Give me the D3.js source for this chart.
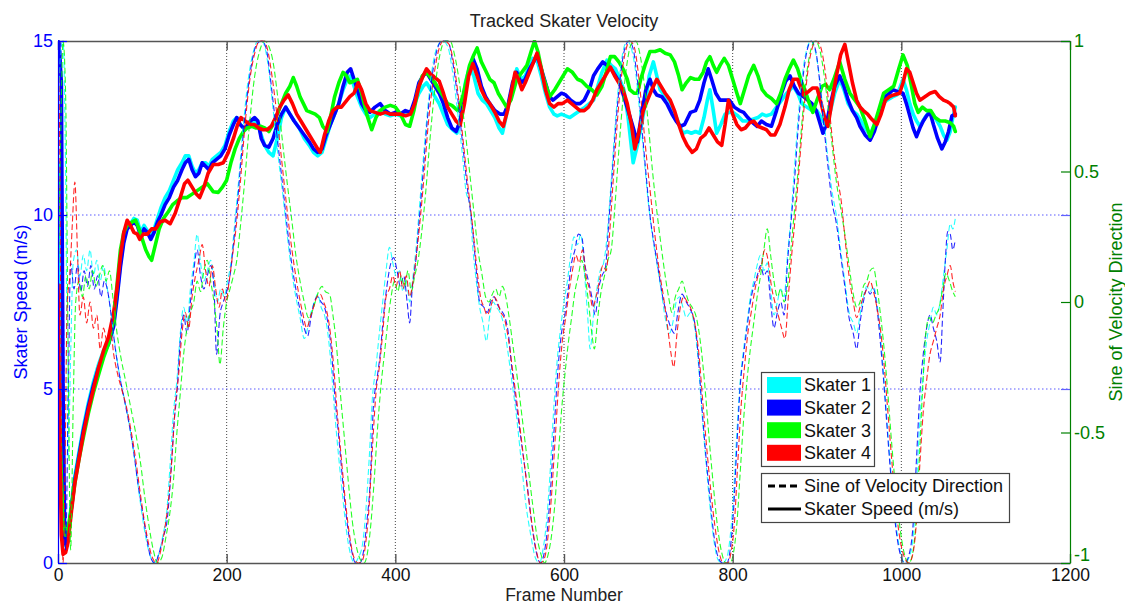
<!DOCTYPE html>
<html><head><meta charset="utf-8">
<script src="https://cdn.jsdelivr.net/npm/d3@7"></script>
<style>
body{margin:0;background:#fff;}
svg{display:block;font-family:"Liberation Sans",Arial,sans-serif;}
</style></head>
<body><svg id="chart" width="1125" height="605"></svg>
<script>
const chartTitle = "Tracked Skater Velocity";
const xLabel = "Frame Number";
const leftLabel = "Skater Speed (m/s)";
const rightLabel = "Sine of Velocity Direction";
const skaterNames = ["Skater 1","Skater 2","Skater 3","Skater 4"];
const skaterColors = ["#00ffff","#0000ff","#00ff00","#ff0000"];
const styleNames = ["Sine of Velocity Direction","Skater Speed (m/s)"];
const xTicks = [0,200,400,600,800,1000,1200];
const leftTicks = [0,5,10,15];
const rightTicks = [-1,-0.5,0,0.5,1];
const rightTickLabels = ["-1","-0.5","0","0.5","1"];

// Speed [frame, m/s]
const speed1 = [[0,11.5],[2,6.0],[4,2.0],[6,0.6],[9,0.5],[12,0.9],[16,1.7],[20,2.5],[25,3.2],[30,3.9],[36,4.6],[42,5.2],[48,5.7],[54,6.1],[60,6.4],[66,6.9],[70,7.7],[74,8.6],[78,9.3],[82,9.7],[86,9.75],[90,9.9],[94,9.85],[98,9.5],[102,9.7],[106,9.55],[110,9.4],[114,9.6],[118,9.9],[122,10.2],[127,10.5],[132,10.7],[137,11.0],[142,11.3],[147,11.5],[151,11.7],[155,11.7],[159,11.4],[163,11.2],[167,11.3],[171,11.5],[175,11.5],[179,11.4],[183,11.6],[188,11.7],[193,11.8],[198,12.0],[203,12.4],[208,12.7],[212,12.8],[216,12.6],[220,12.5],[224,12.5],[228,12.6],[233,12.7],[237,12.6],[241,12.3],[245,12.0],[250,11.8],[255,11.7],[260,12.2],[265,12.8],[270,13.1],[275,12.9],[280,12.7],[286,12.5],[292,12.2],[298,12.0],[303,11.8],[308,11.7],[313,11.8],[318,12.2],[323,12.6],[328,12.9],[333,13.2],[338,13.6],[343,13.9],[347,14.0],[351,13.7],[355,13.4],[360,13.1],[365,12.9],[370,12.8],[376,12.9],[382,13.0],[388,12.9],[394,12.85],[400,12.9],[406,12.85],[412,12.9],[418,12.9],[423,13.2],[428,13.5],[433,13.7],[437,13.8],[442,13.6],[447,13.4],[452,13.2],[457,12.9],[462,12.6],[468,12.45],[473,12.35],[478,12.9],[483,13.8],[488,14.25],[493,14.0],[498,13.5],[503,13.3],[508,13.2],[513,13.0],[518,12.8],[523,12.5],[527,12.35],[532,12.9],[538,13.6],[544,14.2],[549,13.9],[554,14.0],[559,14.3],[563,14.5],[568,14.45],[573,14.0],[578,13.5],[583,13.1],[588,12.9],[592,12.85],[597,12.9],[602,12.85],[607,12.8],[613,12.9],[619,13.0],[625,13.1],[630,13.2],[635,13.3],[640,13.7],[645,14.1],[651,14.45],[656,14.3],[661,14.2],[666,13.9],[671,13.6],[676,12.8],[682,11.5],[687,12.0],[692,12.6],[697,13.3],[701,14.0],[706,14.4],[710,14.0],[714,13.6],[720,13.4],[725,13.3],[730,13.0],[735,12.7],[741,12.35],[746,12.4],[751,12.35],[756,12.4],[761,12.35],[766,12.8],[770,13.3],[773,13.6],[777,13.0],[781,12.35],[786,12.6],[791,12.9],[796,12.95],[800,12.95],[806,12.85],[812,12.7],[818,12.7],[824,12.75],[830,12.8],[835,12.9],[840,12.85],[846,12.9],[852,13.1],[858,13.3],[864,13.5],[872,13.7],[877,13.5],[882,13.2],[888,13.1],[894,13.0],[900,13.0],[905,12.8],[911,12.55],[916,13.0],[921,13.5],[927,13.9],[932,13.6],[937,13.2],[942,13.0],[947,12.9],[951,12.75],[957,12.5],[963,12.3],[968,12.6],[973,12.9],[978,13.2],[983,13.3],[990,13.4],[995,13.45],[1002,13.9],[1006,13.6],[1010,13.2],[1014,12.9],[1018,12.7],[1022,12.55],[1028,12.8],[1034,13.0],[1040,12.8],[1046,12.55],[1050,12.3],[1054,12.15],[1058,12.4],[1061,12.8],[1064,13.1]];
const speed2 = [[0,15.0],[2,14.6],[4,13.8],[6,5.0],[8,0.6],[10,0.5],[12,0.8],[16,1.6],[20,2.4],[25,3.1],[30,3.8],[36,4.5],[42,5.1],[48,5.6],[54,6.0],[60,6.3],[66,6.8],[70,7.6],[74,8.5],[78,9.2],[82,9.6],[86,9.7],[90,9.8],[94,9.7],[98,9.4],[102,9.6],[106,9.5],[110,9.3],[114,9.5],[118,9.8],[122,10.0],[127,10.3],[132,10.5],[137,10.8],[142,11.0],[147,11.3],[151,11.5],[155,11.6],[159,11.3],[163,11.1],[167,11.2],[171,11.5],[175,11.4],[179,11.3],[183,11.5],[188,11.6],[193,11.7],[198,11.9],[203,12.3],[208,12.6],[212,12.8],[216,12.6],[220,12.5],[224,12.55],[228,12.7],[233,12.8],[237,12.7],[241,12.2],[245,12.0],[250,11.95],[255,12.2],[260,12.6],[265,12.9],[270,13.1],[275,12.9],[280,12.7],[286,12.5],[292,12.3],[298,12.1],[303,11.9],[308,11.8],[313,11.9],[318,12.3],[323,12.6],[328,12.9],[333,13.2],[338,13.7],[343,14.1],[347,14.2],[351,13.9],[355,13.6],[360,13.2],[365,13.0],[370,12.95],[376,13.1],[382,13.2],[388,13.0],[394,12.9],[400,12.95],[406,12.9],[412,13.0],[418,12.95],[423,13.3],[428,13.8],[433,14.0],[437,14.1],[442,13.9],[447,13.7],[452,13.5],[457,13.2],[462,12.8],[467,12.5],[472,12.4],[477,12.7],[482,13.4],[487,14.1],[492,14.5],[497,14.2],[502,13.7],[507,13.4],[512,13.2],[518,13.0],[524,12.9],[529,12.9],[534,13.2],[539,13.8],[544,14.1],[549,13.8],[554,13.9],[559,14.2],[564,14.4],[568,14.6],[573,14.2],[578,13.8],[583,13.4],[587,13.3],[592,13.4],[597,13.5],[602,13.45],[608,13.3],[614,13.2],[619,13.2],[624,13.3],[630,13.6],[635,14.0],[640,14.2],[646,14.4],[651,14.3],[656,14.2],[661,14.0],[666,13.8],[671,13.4],[676,13.0],[681,12.6],[687,12.1],[692,12.9],[697,13.6],[702,13.9],[706,13.6],[710,13.45],[716,13.4],[722,13.2],[728,12.9],[733,12.7],[738,12.55],[743,12.6],[750,12.95],[756,13.0],[761,13.3],[766,13.8],[771,14.2],[775,13.9],[780,13.5],[785,13.3],[790,13.3],[796,13.3],[802,13.1],[808,13.0],[813,12.95],[818,12.8],[824,12.65],[829,12.55],[834,12.7],[840,12.6],[846,12.55],[852,13.0],[858,13.5],[863,13.85],[868,14.0],[873,13.7],[878,13.5],[884,13.4],[889,13.3],[894,13.2],[899,13.0],[904,12.6],[907,12.35],[911,12.6],[916,13.2],[921,13.7],[927,14.0],[932,13.7],[937,13.3],[942,13.0],[947,12.8],[951,12.55],[957,12.3],[963,12.15],[968,12.4],[973,12.8],[977,13.1],[981,13.4],[986,13.5],[990,13.6],[995,13.55],[1002,13.5],[1006,13.2],[1010,12.85],[1014,12.5],[1018,12.25],[1022,12.5],[1026,12.7],[1030,12.85],[1034,12.95],[1038,12.6],[1043,12.2],[1048,11.9],[1052,12.1],[1056,12.4],[1060,12.85],[1064,12.9]];
const speed3 = [[0,6.5],[2,4.0],[4,2.4],[6,1.2],[9,0.8],[12,1.0],[16,1.6],[20,2.3],[25,3.0],[30,3.6],[36,4.3],[42,4.9],[48,5.4],[54,5.9],[60,6.3],[66,7.0],[70,8.0],[74,9.0],[78,9.5],[82,9.7],[88,9.8],[92,9.85],[96,9.6],[100,9.3],[104,9.0],[108,8.8],[111,8.7],[115,9.1],[120,9.6],[125,9.9],[131,10.1],[136,10.3],[141,10.4],[147,10.5],[153,10.5],[159,10.6],[165,10.7],[171,10.8],[177,10.9],[184,10.67],[190,10.65],[195,10.8],[200,11.0],[205,11.5],[210,11.9],[215,12.2],[220,12.4],[224,12.5],[230,12.55],[235,12.5],[240,12.55],[245,12.5],[250,12.4],[255,12.6],[260,12.9],[265,13.2],[270,13.5],[275,13.7],[279,13.95],[283,13.7],[287,13.4],[291,13.2],[295,13.0],[300,12.95],[305,12.9],[310,12.8],[314,12.55],[319,12.4],[323,12.8],[328,13.4],[333,13.8],[338,14.1],[342,14.0],[346,13.8],[351,13.85],[355,13.9],[360,13.5],[366,12.9],[372,12.45],[377,12.8],[382,13.0],[388,13.1],[394,13.15],[400,13.1],[406,12.9],[412,12.6],[417,12.55],[422,13.0],[427,13.6],[432,14.0],[437,14.1],[442,13.95],[447,13.8],[452,13.6],[457,13.4],[462,13.2],[467,13.15],[474,13.0],[480,13.4],[488,14.3],[493,14.6],[497,14.8],[502,14.4],[507,14.15],[512,13.9],[517,13.8],[522,13.5],[527,13.3],[532,13.1],[537,13.3],[544,13.9],[550,14.1],[556,14.3],[561,14.7],[565,15.0],[569,14.7],[575,14.0],[579,13.7],[583,13.4],[589,13.6],[594,13.8],[599,14.0],[604,14.2],[610,14.1],[616,13.9],[621,13.85],[627,13.7],[633,13.6],[639,13.45],[645,13.7],[650,14.1],[655,14.55],[660,14.55],[665,14.4],[670,14.2],[675,13.9],[678,13.6],[683,13.5],[687,13.5],[691,13.9],[696,14.3],[702,14.7],[708,14.7],[714,14.75],[720,14.65],[726,14.6],[731,14.4],[736,14.0],[740,13.6],[745,13.8],[750,13.95],[755,13.9],[760,13.9],[765,14.1],[769,14.4],[773,14.55],[777,14.3],[781,14.1],[785,14.3],[790,14.5],[795,14.3],[800,13.9],[805,13.5],[809,13.2],[814,13.6],[819,14.0],[825,14.3],[830,14.0],[835,13.6],[840,13.45],[846,13.35],[852,13.2],[857,13.5],[862,13.9],[867,14.2],[872,14.45],[877,14.2],[882,13.8],[887,13.5],[891,13.2],[895,12.95],[900,13.3],[906,13.7],[910,13.75],[915,13.6],[920,13.9],[927,14.4],[933,13.9],[939,13.5],[945,13.3],[951,13.1],[957,12.7],[963,12.25],[968,12.6],[973,13.0],[979,13.5],[985,13.6],[991,13.7],[997,14.2],[1002,14.6],[1007,14.3],[1012,13.7],[1016,13.2],[1020,12.95],[1025,13.1],[1030,13.0],[1035,13.0],[1040,12.8],[1046,12.7],[1052,12.7],[1058,12.65],[1062,12.55],[1064,12.4]];
const speed4 = [[0,8.0],[2,3.5],[4,0.8],[6,0.25],[9,0.3],[12,0.6],[16,1.5],[20,2.3],[25,3.0],[30,3.7],[36,4.4],[42,5.0],[48,5.6],[54,6.1],[60,6.5],[66,7.2],[70,7.9],[74,8.8],[78,9.5],[82,9.85],[86,9.7],[90,9.5],[94,9.45],[97,9.3],[101,9.45],[106,9.45],[111,9.6],[116,9.6],[121,9.8],[127,9.85],[133,9.75],[139,10.05],[145,10.5],[150,10.9],[154,11.0],[159,10.8],[164,10.6],[168,10.5],[173,10.8],[178,11.2],[184,11.45],[190,11.45],[196,11.5],[202,11.8],[208,12.2],[213,12.6],[217,12.8],[222,12.7],[228,12.6],[233,12.6],[238,12.5],[243,12.45],[248,12.45],[253,12.55],[258,12.8],[263,13.1],[268,13.3],[273,13.45],[278,13.2],[283,12.9],[288,12.7],[293,12.5],[298,12.3],[303,12.1],[308,11.9],[311,11.8],[316,12.3],[321,12.7],[326,13.0],[331,13.1],[336,13.1],[341,13.25],[346,13.4],[351,13.5],[356,13.8],[360,13.6],[365,13.2],[370,13.0],[376,12.95],[382,12.9],[388,12.95],[394,12.9],[400,12.9],[406,12.9],[412,12.85],[418,12.9],[423,13.2],[428,13.7],[433,14.0],[437,14.2],[442,14.05],[447,13.95],[452,13.85],[457,13.5],[462,13.1],[467,12.9],[472,12.7],[477,12.6],[482,13.2],[487,14.0],[492,14.35],[497,14.0],[502,13.6],[507,13.35],[512,13.2],[518,12.95],[523,12.7],[528,12.55],[533,13.0],[538,13.6],[542,14.1],[546,13.9],[550,13.6],[554,13.8],[559,14.1],[564,14.4],[568,14.65],[573,14.2],[578,13.6],[583,13.2],[588,13.1],[593,13.2],[598,13.2],[604,13.3],[609,13.2],[614,13.1],[619,13.0],[624,13.0],[629,13.1],[634,13.3],[639,13.6],[644,13.8],[649,14.0],[655,14.25],[660,14.0],[665,13.8],[670,13.6],[675,13.2],[680,12.6],[684,11.9],[689,12.4],[694,13.0],[699,13.3],[704,13.6],[710,13.9],[715,13.7],[720,13.5],[726,13.3],[731,13.0],[736,12.6],[741,12.25],[746,12.0],[752,11.8],[757,11.9],[762,12.2],[767,12.3],[772,12.5],[777,12.3],[782,12.1],[787,12.0],[791,12.6],[795,13.3],[800,12.9],[805,12.6],[810,12.45],[815,12.5],[820,12.65],[825,12.7],[830,12.55],[835,12.5],[840,12.45],[845,12.3],[850,12.3],[856,12.6],[862,13.1],[867,13.6],[872,13.9],[877,13.9],[884,13.45],[890,13.55],[895,13.65],[900,13.65],[905,13.2],[910,12.7],[913,12.55],[918,13.3],[923,14.0],[928,14.6],[933,14.9],[938,14.3],[942,13.8],[947,13.3],[951,13.1],[955,13.0],[960,12.9],[965,12.75],[971,12.6],[976,12.9],[981,13.3],[986,13.4],[991,13.45],[998,13.5],[1002,13.8],[1006,14.2],[1010,14.1],[1014,13.8],[1018,13.5],[1022,13.3],[1028,13.4],[1034,13.5],[1040,13.55],[1045,13.4],[1050,13.3],[1055,13.25],[1058,13.2],[1062,13.1],[1064,12.85]];

// Sine of velocity direction [frame, sine]
const sine1 = [[0,0.6],[3,0.95],[6,1.0],[9,0.5],[12,-0.6],[15,-0.2],[18,0.15],[22,0.2],[26,0.1],[30,0.18],[34,0.12],[38,0.2],[42,0.1],[46,0.16],[50,0.08],[54,0.14],[58,0.06],[62,-0.02],[67,-0.15],[73,-0.28],[78,-0.36],[84,-0.46],[89,-0.56],[94,-0.68],[99,-0.8],[104,-0.9],[109,-0.97],[114,-1.0],[119,-0.97],[124,-0.9],[129,-0.8],[133,-0.62],[137,-0.42],[141,-0.3],[145,-0.12],[149,-0.02],[153,-0.08],[157,0.05],[161,0.15],[165,0.26],[169,0.15],[173,0.08],[177,0.12],[181,0.16],[185,0.08],[189,0.0],[193,0.05],[197,0.02],[201,0.08],[205,0.15],[209,0.28],[213,0.42],[219,0.65],[225,0.84],[231,0.95],[237,1.0],[242,1.0],[247,0.95],[251,0.86],[255,0.74],[261,0.56],[267,0.4],[272,0.25],[277,0.12],[282,0.02],[287,-0.06],[292,-0.14],[296,-0.1],[300,-0.04],[304,0.0],[308,0.03],[312,-0.02],[316,-0.05],[320,-0.12],[324,-0.25],[328,-0.42],[333,-0.6],[338,-0.76],[343,-0.9],[348,-0.98],[352,-1.0],[356,-0.98],[361,-0.93],[365,-0.8],[369,-0.6],[373,-0.36],[377,-0.25],[381,-0.12],[385,0.0],[389,0.12],[393,0.21],[397,0.15],[401,0.1],[405,0.12],[409,0.04],[413,0.08],[417,0.0],[421,0.1],[425,0.22],[429,0.38],[434,0.58],[439,0.76],[444,0.9],[450,0.98],[456,1.0],[462,0.98],[467,0.9],[473,0.75],[479,0.58],[484,0.42],[488,0.38],[492,0.2],[496,0.08],[500,-0.02],[504,-0.08],[508,-0.15],[512,-0.05],[516,0.0],[520,-0.02],[524,-0.04],[528,-0.08],[533,-0.18],[538,-0.3],[543,-0.42],[549,-0.6],[555,-0.78],[561,-0.9],[566,-0.98],[571,-1.0],[575,-0.95],[579,-0.85],[583,-0.68],[588,-0.4],[592,-0.22],[596,-0.1],[600,0.0],[604,0.08],[608,0.18],[612,0.25],[616,0.22],[620,0.26],[624,0.12],[628,-0.05],[631,-0.18],[635,-0.05],[639,0.05],[643,0.12],[647,0.15],[651,0.25],[655,0.42],[660,0.65],[665,0.84],[670,0.96],[675,1.0],[680,0.97],[685,0.88],[690,0.72],[695,0.55],[700,0.38],[705,0.25],[710,0.15],[715,0.05],[720,-0.06],[725,-0.12],[729,-0.08],[733,0.0],[737,0.02],[741,-0.02],[745,-0.06],[750,-0.04],[755,-0.1],[759,-0.22],[763,-0.4],[768,-0.6],[773,-0.78],[778,-0.92],[783,-0.99],[788,-1.0],[793,-0.98],[797,-0.9],[801,-0.74],[805,-0.5],[809,-0.3],[813,-0.18],[817,-0.08],[821,0.02],[825,0.08],[829,0.14],[833,0.18],[837,0.12],[841,0.15],[845,0.05],[849,-0.05],[853,0.0],[857,0.05],[861,0.02],[865,0.18],[869,0.32],[873,0.5],[878,0.72],[883,0.88],[888,0.97],[893,1.0],[898,0.96],[903,0.86],[908,0.7],[913,0.55],[918,0.42],[923,0.33],[928,0.2],[933,0.08],[938,-0.04],[943,-0.08],[947,-0.12],[951,-0.05],[955,0.02],[959,0.06],[963,0.04],[967,0.06],[971,0.0],[975,-0.12],[979,-0.28],[984,-0.5],[989,-0.7],[994,-0.86],[999,-0.96],[1004,-1.0],[1009,-0.98],[1014,-0.9],[1018,-0.7],[1022,-0.45],[1026,-0.28],[1030,-0.15],[1034,-0.08],[1038,-0.02],[1042,-0.05],[1046,0.0],[1050,0.1],[1054,0.2],[1058,0.3],[1061,0.28],[1064,0.32]];
const sine2 = [[0,0.9],[3,1.0],[6,0.2],[9,-0.95],[12,-0.4],[15,0.15],[19,0.05],[23,0.14],[27,0.04],[31,0.12],[35,0.06],[39,0.14],[43,0.05],[47,0.1],[51,0.02],[55,0.08],[59,0.04],[63,-0.05],[68,-0.18],[74,-0.3],[79,-0.38],[85,-0.48],[90,-0.58],[95,-0.7],[100,-0.8],[105,-0.9],[110,-0.98],[115,-1.0],[120,-0.96],[125,-0.9],[130,-0.82],[134,-0.65],[138,-0.45],[141,-0.35],[145,-0.15],[149,-0.05],[153,-0.12],[157,0.0],[161,0.12],[165,0.2],[169,0.1],[173,0.05],[177,0.1],[181,0.14],[185,0.05],[188,-0.2],[192,-0.05],[196,0.0],[200,0.04],[204,0.1],[208,0.22],[212,0.35],[218,0.58],[224,0.78],[230,0.92],[236,0.99],[242,1.0],[247,0.97],[251,0.88],[255,0.77],[261,0.6],[267,0.43],[272,0.28],[277,0.15],[282,0.05],[287,-0.03],[292,-0.1],[296,-0.13],[300,-0.06],[304,0.0],[308,0.02],[312,0.0],[316,-0.02],[320,-0.08],[324,-0.18],[328,-0.35],[333,-0.52],[338,-0.7],[343,-0.85],[348,-0.95],[353,-1.0],[358,-1.0],[362,-0.96],[366,-0.85],[370,-0.7],[374,-0.4],[378,-0.3],[382,-0.2],[386,-0.05],[390,0.06],[394,0.14],[398,0.17],[402,0.12],[406,0.06],[410,0.1],[414,0.0],[417,-0.08],[420,0.05],[424,0.15],[428,0.3],[433,0.5],[438,0.7],[443,0.85],[449,0.96],[455,1.0],[462,1.0],[468,0.92],[474,0.78],[480,0.6],[486,0.42],[491,0.3],[496,0.12],[500,0.0],[505,-0.02],[509,-0.04],[513,0.0],[517,0.02],[521,-0.01],[525,-0.03],[529,-0.05],[534,-0.12],[538,-0.25],[543,-0.38],[550,-0.55],[557,-0.72],[563,-0.88],[568,-0.97],[572,-1.0],[576,-0.97],[580,-0.88],[584,-0.72],[589,-0.45],[593,-0.25],[597,-0.12],[601,-0.05],[605,0.05],[609,0.15],[613,0.2],[617,0.26],[621,0.25],[625,0.14],[629,0.08],[633,0.02],[637,-0.05],[641,0.05],[645,0.1],[649,0.13],[653,0.3],[657,0.48],[662,0.7],[667,0.87],[672,0.97],[677,1.0],[682,0.97],[687,0.85],[692,0.68],[697,0.5],[702,0.33],[707,0.22],[712,0.12],[717,0.02],[722,-0.05],[727,-0.1],[731,-0.12],[735,-0.04],[740,0.03],[745,0.0],[750,-0.03],[755,-0.08],[759,-0.2],[763,-0.38],[768,-0.58],[773,-0.75],[778,-0.9],[783,-0.98],[788,-1.0],[793,-1.0],[797,-0.95],[801,-0.8],[805,-0.55],[809,-0.32],[813,-0.2],[817,-0.1],[821,0.0],[825,0.06],[829,0.1],[833,0.14],[837,0.1],[841,0.12],[845,0.0],[849,-0.1],[853,-0.04],[857,0.0],[861,-0.05],[865,0.15],[869,0.3],[873,0.45],[878,0.68],[883,0.85],[888,0.96],[893,1.0],[898,0.97],[903,0.85],[908,0.68],[913,0.52],[918,0.38],[923,0.3],[928,0.18],[933,0.06],[938,-0.06],[943,-0.12],[947,-0.18],[951,-0.08],[955,0.0],[959,0.05],[963,0.03],[967,0.05],[971,-0.02],[975,-0.15],[979,-0.3],[984,-0.52],[989,-0.72],[994,-0.88],[999,-0.97],[1004,-1.0],[1009,-0.97],[1014,-0.85],[1018,-0.6],[1022,-0.35],[1026,-0.2],[1030,-0.1],[1034,-0.05],[1038,-0.1],[1042,-0.15],[1046,-0.23],[1049,-0.05],[1052,0.15],[1055,0.27],[1058,0.26],[1061,0.2],[1064,0.24]];
const sine3 = [[0,0.0],[3,0.6],[6,1.0],[9,0.8],[12,-0.2],[15,-0.95],[18,-0.4],[21,0.0],[25,0.08],[29,0.02],[33,0.1],[37,0.05],[41,0.12],[45,0.06],[49,0.1],[53,0.14],[57,0.08],[61,0.12],[65,0.02],[70,-0.12],[75,-0.22],[80,-0.3],[86,-0.4],[92,-0.5],[98,-0.62],[103,-0.75],[108,-0.86],[113,-0.95],[118,-1.0],[123,-0.98],[128,-0.9],[133,-0.8],[137,-0.68],[141,-0.5],[145,-0.35],[149,-0.2],[153,-0.1],[157,-0.04],[161,0.0],[165,0.08],[169,0.04],[173,0.12],[177,0.16],[181,0.08],[185,0.0],[189,-0.12],[192,-0.24],[196,-0.1],[200,0.0],[204,0.05],[208,0.1],[212,0.16],[216,0.28],[221,0.45],[227,0.68],[233,0.86],[239,0.96],[245,1.0],[250,0.98],[255,0.92],[260,0.8],[266,0.62],[272,0.45],[277,0.32],[282,0.18],[287,0.08],[292,0.0],[297,-0.06],[301,-0.04],[305,0.0],[309,0.04],[313,0.06],[317,0.04],[322,0.03],[326,-0.05],[330,-0.16],[334,-0.32],[339,-0.5],[344,-0.68],[349,-0.84],[354,-0.94],[359,-0.99],[363,-1.0],[367,-0.96],[371,-0.85],[375,-0.68],[379,-0.48],[383,-0.32],[387,-0.2],[391,-0.08],[395,0.02],[399,0.08],[403,0.04],[407,0.1],[411,0.06],[415,0.12],[419,0.04],[423,0.1],[427,0.16],[431,0.26],[436,0.42],[441,0.62],[447,0.82],[453,0.95],[459,1.0],[465,1.0],[470,0.95],[476,0.84],[482,0.68],[488,0.5],[493,0.35],[498,0.2],[503,0.1],[507,0.02],[511,0.0],[515,0.03],[519,0.05],[523,0.02],[527,0.06],[531,0.02],[535,-0.06],[540,-0.18],[545,-0.3],[551,-0.46],[557,-0.62],[563,-0.78],[568,-0.9],[573,-0.97],[577,-1.0],[581,-0.97],[585,-0.9],[589,-0.78],[593,-0.6],[597,-0.42],[601,-0.28],[605,-0.16],[609,-0.06],[613,0.04],[617,0.1],[621,0.16],[625,0.1],[629,0.0],[633,-0.12],[636,-0.18],[640,-0.06],[644,0.04],[648,0.1],[652,0.16],[656,0.2],[660,0.35],[665,0.58],[670,0.78],[675,0.92],[680,0.99],[685,1.0],[690,0.95],[695,0.84],[700,0.68],[705,0.5],[710,0.35],[715,0.22],[720,0.1],[724,0.02],[728,-0.04],[732,0.02],[736,0.05],[740,0.08],[744,0.04],[748,0.0],[752,-0.02],[757,-0.06],[762,-0.16],[767,-0.32],[772,-0.52],[777,-0.7],[782,-0.86],[787,-0.96],[792,-1.0],[797,-1.0],[801,-0.96],[805,-0.85],[809,-0.65],[813,-0.45],[817,-0.3],[821,-0.18],[825,-0.08],[829,0.02],[833,0.1],[837,0.2],[841,0.28],[845,0.18],[849,0.08],[853,0.02],[857,0.05],[861,0.0],[865,0.06],[869,0.2],[873,0.34],[878,0.52],[883,0.72],[888,0.88],[893,0.97],[898,1.0],[903,0.97],[908,0.88],[913,0.75],[918,0.6],[923,0.46],[928,0.36],[933,0.26],[938,0.14],[943,0.03],[947,-0.02],[951,0.0],[955,0.06],[959,0.08],[963,0.12],[967,0.13],[971,0.06],[975,-0.04],[979,-0.16],[984,-0.35],[989,-0.56],[994,-0.74],[999,-0.88],[1004,-0.97],[1009,-1.0],[1013,-0.97],[1017,-0.86],[1021,-0.62],[1025,-0.35],[1029,-0.12],[1033,-0.06],[1037,-0.08],[1041,-0.05],[1045,-0.02],[1049,0.05],[1053,0.11],[1057,0.08],[1061,0.04],[1064,0.02]];
const sine4 = [[0,1.0],[2,0.6],[4,-0.5],[6,-1.0],[8,-0.7],[11,0.0],[14,0.1],[17,0.3],[20,0.46],[23,0.2],[26,-0.05],[30,0.02],[34,-0.08],[38,0.0],[42,-0.1],[46,-0.05],[50,-0.18],[54,-0.1],[58,-0.15],[62,-0.1],[66,-0.2],[71,-0.28],[76,-0.34],[81,-0.4],[87,-0.5],[92,-0.6],[97,-0.72],[102,-0.83],[107,-0.92],[112,-0.98],[117,-1.0],[122,-0.95],[127,-0.86],[131,-0.76],[135,-0.6],[139,-0.4],[143,-0.28],[147,-0.12],[151,-0.04],[155,-0.1],[159,0.02],[163,0.1],[167,0.16],[171,0.22],[175,0.12],[179,0.06],[183,0.14],[187,0.05],[191,-0.02],[195,0.05],[199,0.0],[203,0.08],[207,0.18],[211,0.28],[216,0.45],[221,0.65],[227,0.84],[233,0.95],[239,1.0],[244,1.0],[249,0.96],[254,0.86],[258,0.76],[264,0.58],[270,0.4],[275,0.26],[280,0.14],[285,0.04],[290,-0.04],[295,-0.1],[299,-0.06],[303,-0.02],[307,0.02],[311,0.03],[315,0.0],[319,-0.04],[323,-0.12],[327,-0.25],[331,-0.42],[336,-0.6],[341,-0.77],[346,-0.9],[351,-0.98],[356,-1.0],[361,-0.99],[365,-0.92],[369,-0.78],[373,-0.55],[377,-0.35],[381,-0.25],[385,-0.12],[389,0.02],[393,0.05],[397,0.1],[401,0.06],[405,0.12],[409,0.05],[413,0.1],[417,0.02],[421,0.08],[425,0.18],[429,0.3],[434,0.48],[439,0.68],[445,0.85],[451,0.96],[457,1.0],[463,0.99],[469,0.92],[475,0.78],[481,0.6],[487,0.42],[492,0.28],[497,0.12],[501,0.02],[505,-0.02],[509,-0.05],[513,-0.02],[517,0.02],[521,0.0],[525,-0.04],[529,-0.06],[534,-0.14],[539,-0.26],[544,-0.38],[550,-0.54],[556,-0.7],[562,-0.85],[567,-0.95],[572,-1.0],[577,-0.98],[581,-0.9],[585,-0.75],[590,-0.5],[594,-0.3],[598,-0.15],[602,-0.06],[606,0.04],[610,0.12],[614,0.18],[618,0.15],[622,0.2],[626,0.1],[630,0.05],[634,-0.02],[638,0.02],[642,0.08],[646,0.14],[650,0.12],[654,0.26],[658,0.45],[663,0.68],[668,0.86],[673,0.96],[678,1.0],[683,0.98],[688,0.88],[693,0.72],[698,0.55],[703,0.4],[708,0.25],[713,0.12],[718,0.02],[723,-0.1],[727,-0.2],[730,-0.25],[734,-0.12],[738,-0.02],[742,0.02],[746,0.0],[751,-0.03],[756,-0.1],[760,-0.2],[764,-0.36],[769,-0.55],[774,-0.72],[779,-0.86],[784,-0.96],[789,-1.0],[794,-1.0],[798,-0.96],[802,-0.85],[806,-0.62],[810,-0.4],[814,-0.25],[818,-0.12],[822,-0.04],[826,0.04],[830,0.1],[834,0.14],[838,0.2],[842,0.16],[846,0.06],[850,0.0],[854,-0.05],[858,-0.1],[862,-0.14],[866,0.02],[870,0.18],[874,0.32],[879,0.52],[884,0.72],[889,0.88],[894,0.97],[899,1.0],[904,0.98],[909,0.9],[914,0.76],[919,0.6],[924,0.48],[929,0.38],[933,0.25],[938,0.1],[943,0.0],[947,-0.06],[951,-0.02],[955,0.02],[959,0.05],[963,0.08],[967,0.04],[971,-0.02],[975,-0.1],[979,-0.22],[984,-0.42],[989,-0.62],[994,-0.8],[999,-0.92],[1004,-0.98],[1009,-1.0],[1014,-0.96],[1018,-0.84],[1022,-0.62],[1026,-0.42],[1030,-0.3],[1034,-0.2],[1038,-0.15],[1042,-0.1],[1046,-0.05],[1050,0.05],[1054,0.1],[1058,0.14],[1061,0.08],[1064,0.04]];

const speeds = [speed1, speed2, speed3, speed4];
const sines = [sine1, sine2, sine3, sine4];

// ---------- drawing ----------
const W = 1125, H = 605;
const L = 58, R = 1070, T = 41, B = 563;
const FONT = 18;
const XFONT = 17.5;
const FF = "Liberation Sans, Arial, sans-serif";
const leftColor = "#0000ff", rightColor = "#008000", axisColor = "#555";

const svg = d3.select("#chart");
const x = d3.scaleLinear().domain([0,1200]).range([L,R]);
const yL = d3.scaleLinear().domain([0,15]).range([B,T]);
const yR = d3.scaleLinear().domain([-1,1]).range([B,T]);

svg.append("rect").attr("x",0).attr("y",0).attr("width",W).attr("height",H).attr("fill","#fff");

// grid
const grid = svg.append("g");
grid.selectAll("line.gx").data(xTicks.filter(d=>d>0 && d<1200)).join("line")
  .attr("x1",d=>x(d)).attr("x2",d=>x(d)).attr("y1",T).attr("y2",B)
  .attr("stroke","#444").attr("stroke-width",1).attr("stroke-dasharray","1,2");
grid.selectAll("line.gy").data(leftTicks.filter(d=>d>0 && d<15)).join("line")
  .attr("x1",L).attr("x2",R).attr("y1",d=>yL(d)).attr("y2",d=>yL(d))
  .attr("stroke","#5a5aff").attr("stroke-width",1.2).attr("stroke-dasharray","1.5,2.5");

// clip
svg.append("clipPath").attr("id","plotclip").append("rect")
  .attr("x",L).attr("y",T-1).attr("width",R-L).attr("height",B-T+2);

const plot = svg.append("g").attr("clip-path","url(#plotclip)");

const speedLine = d3.line().x(d=>x(d[0])).y(d=>yL(d[1]));
const sineLine = d3.line().x(d=>x(d[0])).y(d=>yR(d[1])).curve(d3.curveMonotoneX);

speeds.forEach((s,i)=>{
  plot.append("path").datum(s).attr("d",speedLine)
    .attr("fill","none").attr("stroke",skaterColors[i]).attr("stroke-width",3.6)
    .attr("stroke-linejoin","round").attr("stroke-linecap","round");
});
sines.forEach((s,i)=>{
  plot.append("path").datum(s).attr("d",sineLine)
    .attr("fill","none").attr("stroke",skaterColors[i]).attr("stroke-width",1.1)
    .attr("stroke-dasharray","6,3").attr("stroke-opacity",0.85);
});

// axes
const gx = svg.append("g").attr("transform",`translate(0,${B})`)
  .call(d3.axisBottom(x).tickValues(xTicks).tickFormat(d3.format("d")).tickSize(-9).tickSizeOuter(0).tickPadding(6));
gx.select(".domain").attr("stroke",axisColor).attr("stroke-width",1.6);
gx.selectAll(".tick line").attr("stroke",axisColor).attr("stroke-width",1.4);
gx.selectAll(".tick text").attr("fill","#111").attr("font-size",XFONT).attr("font-family",FF);

// top border + ticks
const gt = svg.append("g").attr("transform",`translate(0,${T})`)
  .call(d3.axisTop(x).tickValues(xTicks).tickFormat("").tickSize(-9).tickSizeOuter(0));
gt.select(".domain").attr("stroke",axisColor).attr("stroke-width",1.6);
gt.selectAll(".tick line").attr("stroke",axisColor).attr("stroke-width",1.4);

// left axis
const gl = svg.append("g").attr("transform",`translate(${L},0)`)
  .call(d3.axisLeft(yL).tickValues(leftTicks).tickSize(-9).tickSizeOuter(0).tickPadding(5));
gl.select(".domain").attr("stroke",leftColor).attr("stroke-width",1.2);
gl.selectAll(".tick line").attr("stroke",leftColor).attr("stroke-width",1.2);
gl.selectAll(".tick text").attr("fill",leftColor).attr("font-size",FONT).attr("font-family",FF);

// mirrored left ticks on right side
const glm = svg.append("g").attr("transform",`translate(${R},0)`)
  .call(d3.axisRight(yL).tickValues(leftTicks).tickFormat("").tickSize(-9).tickSizeOuter(0));
glm.select(".domain").remove();
glm.selectAll(".tick line").attr("stroke","#6060ff").attr("stroke-width",1.2);

// right axis
const gr = svg.append("g").attr("transform",`translate(${R},0)`)
  .call(d3.axisRight(yR).tickValues(rightTicks).tickFormat((d,i)=>rightTickLabels[i]).tickSize(-9).tickSizeOuter(0).tickPadding(4));
gr.select(".domain").attr("stroke",rightColor).attr("stroke-width",1.2);
gr.selectAll(".tick line").attr("stroke",rightColor).attr("stroke-width",1.2);
gr.selectAll(".tick text").attr("fill",rightColor).attr("font-size",FONT).attr("font-family",FF);
gr.selectAll(".tick text").filter(d=>d===-1).attr("dy","-0.12em");

// titles
svg.append("text").attr("x",(L+R)/2).attr("y",27).attr("text-anchor","middle")
  .attr("font-size",FONT).attr("fill","#222").text(chartTitle);
svg.append("text").attr("x",(L+R)/2).attr("y",601).attr("text-anchor","middle")
  .attr("font-size",XFONT).attr("fill","#222").text(xLabel);
svg.append("text").attr("transform",`translate(27,${(T+B)/2}) rotate(-90)`).attr("text-anchor","middle")
  .attr("font-size",FONT).attr("fill",leftColor).text(leftLabel);
svg.append("text").attr("transform",`translate(1122,${(T+B)/2}) rotate(-90)`).attr("text-anchor","middle")
  .attr("font-size",FONT).attr("fill",rightColor).text(rightLabel);

// legend 1
const lg1 = svg.append("g");
lg1.append("rect").attr("x",761.5).attr("y",372.5).attr("width",113).attr("height",94)
  .attr("fill","#fff").attr("stroke","#444").attr("stroke-width",1.2);
skaterNames.forEach((n,i)=>{
  const cy = 385 + i*22.6;
  lg1.append("rect").attr("x",767).attr("y",cy-8).attr("width",34).attr("height",16).attr("fill",skaterColors[i]);
  lg1.append("text").attr("x",804).attr("y",cy).attr("dy","0.35em").attr("font-size",FONT).attr("fill","#111").text(n);
});

// legend 2
const lg2 = svg.append("g");
lg2.append("rect").attr("x",761.5).attr("y",473.5).attr("width",248).attr("height",49)
  .attr("fill","#fff").attr("stroke","#444").attr("stroke-width",1.2);
styleNames.forEach((n,i)=>{
  const cy = 486 + i*23;
  lg2.append("line").attr("x1",768).attr("x2",801).attr("y1",cy).attr("y2",cy)
    .attr("stroke","#000").attr("stroke-width",3)
    .attr("stroke-dasharray", i===0 ? "7,4" : null);
  lg2.append("text").attr("x",804).attr("y",cy).attr("dy","0.35em").attr("font-size",FONT).attr("fill","#111").text(n);
});
</script>
</body></html>
